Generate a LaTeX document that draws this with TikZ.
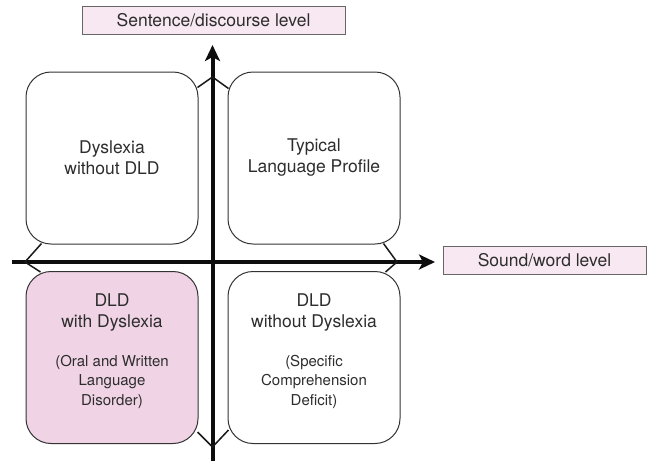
\documentclass[tikz,border=0pt]{standalone}
\usepackage{fontspec}
\setmainfont{TeX Gyre Heros}
\usetikzlibrary{arrows.meta,calc}
\definecolor{levelpink}{RGB}{248,232,242}
\definecolor{quadpink}{RGB}{240,212,230}
\definecolor{inkgray}{RGB}{45,45,45}
\newcommand{\subtext}{\fontsize{15}{19.5}\selectfont}

\begin{document}
\begin{tikzpicture}[x=1pt, y=-1pt, node distance={202pt},
    main/.style = {draw=black!80, line width=1pt, rectangle, rounded corners=25pt, minimum width=172pt, minimum height=172pt, inner sep=0pt, align=center, text=inkgray, font=\fontsize{17.5}{21}\selectfont},
    level/.style = {draw=black!60, line width=0.8pt, fill=levelpink, minimum height=28pt, inner sep=0pt, text=inkgray, font=\fontsize{17.5}{21}\selectfont},
    axis/.style = {line width=4pt, draw=black!95, -{Stealth[length=16pt, width=15pt, inset=4pt]}},
    arm/.style = {line width=1.5pt, draw=black!90}]
    \useasboundingbox (0,0) rectangle (652,461);
    \node[main] (1) at (112,158) {\rule{0pt}{8pt}Dyslexia\\without DLD};
    \node[main] (2) [right of=1] {\rule{0pt}{8pt}Typical\\Language Profile};
    \node[main] (3) [below of=1, node distance={199.5pt}, fill=quadpink] {DLD\\with Dyslexia\\[18pt]{\subtext (Oral and Written}\\[-1.5pt]{\subtext Language}\\[-1.5pt]{\subtext Disorder)\rule[-16pt]{0pt}{16pt}}};
    \node[main] (4) [right of=3] {DLD\\without Dyslexia\\[18pt]{\subtext (Specific}\\[-1.5pt]{\subtext Comprehension}\\[-1.5pt]{\subtext Deficit)\rule[-16pt]{0pt}{16pt}}};
    \node[level, minimum width=263pt] (5) at (213.5,20) {Sentence/discourse level};
    \node[level, minimum width=203pt] (6) at (544.5,260.5) {Sound/word level};
    % axes
    \coordinate (top) at (212.5,45);
    \coordinate (bot) at (212.5,461);
    \coordinate (left) at (12,262);
    \coordinate (right) at (435,262);
    \draw[axis] (bot) -- (top);
    \draw[axis] (left) -- (right);
    % arms joining the boxes to the axes
    \coordinate (vt) at (212.5,77);
    \coordinate (vb) at (212.5,447);
    \coordinate (vl) at (25,262);
    \coordinate (vr) at (397,262);
    \draw[arm] ($(1.north east)+(-1,16)$) -- (vt) -- ($(2.north west)+(1,17)$);
    \draw[arm] ($(1.south west)+(16,-1)$) -- (vl) -- ($(3.north west)+(15,1)$);
    \draw[arm] ($(2.south east)+(-17,-1)$) -- (vr) -- ($(4.north east)+(-15,1)$);
    \draw[arm] ($(3.south east)+(-1,-12)$) -- (vb) -- ($(4.south west)+(1,-14)$);
\end{tikzpicture}
\end{document}
